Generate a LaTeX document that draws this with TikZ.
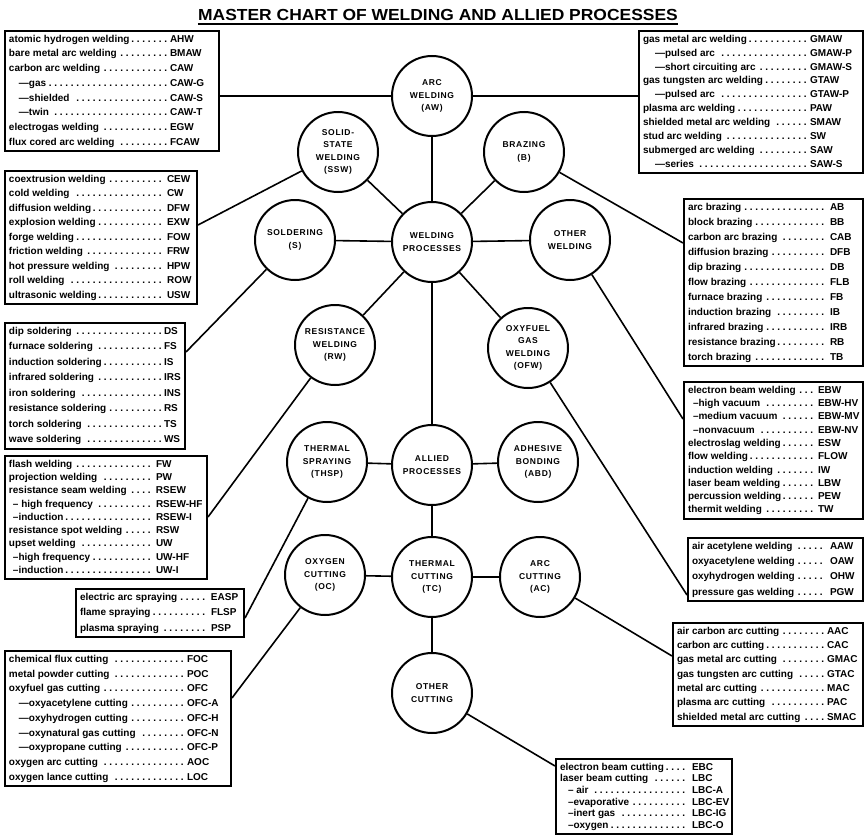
\documentclass[tikz,border=0pt]{standalone}
\usepackage{fontspec}
\usepackage{graphicx}
\setmainfont{Liberation Sans}
\newfontfamily\circfont{Liberation Sans}[LetterSpace=8]
\usetikzlibrary{calc}
\newlength\entw
\newlength\abw
\newcommand\ent[3][0pt]{\hbox to \entw{\vrule height 7pt depth 2pt width 0pt\hspace*{#1}#2\leaders\hbox to 5.5pt{\hss.\hss}\hfill\hbox to \abw{\kern1pt #3\hss}}}
\newcommand\rows[4]{\vbox{\setlength\entw{#1}\setlength\abw{#2}\baselineskip=#3\lineskiplimit=-50pt\lineskip=0pt #4}}
\tikzset{
  lbox/.style={draw, line width=2pt, inner xsep=4pt, inner ysep=4pt, anchor=north west, font=\fontsize{10}{12}\selectfont\bfseries},
  proc/.style={circle, draw, line width=2pt, minimum size=80pt, inner sep=0pt, align=center, font=\circfont\bfseries\fontsize{8.5}{12.5}\selectfont},
  conn/.style={line width=1.6pt},
}
\begin{document}
\begin{tikzpicture}[x=1pt,y=-1pt]
\useasboundingbox (0,0) rectangle (865,835);
% title
\node[font=\bfseries\fontsize{16}{19}\selectfont, inner sep=0pt, anchor=base] (title) at (438,20) {\scalebox{1.09}[1]{MASTER CHART OF WELDING AND ALLIED PROCESSES}};
\draw[line width=1.6pt] ([yshift=-4pt]title.base west) -- ([yshift=-4pt]title.base east);
% circles
\node[proc] (AW) at (432,96) {ARC\\WELDING\\(AW)};
\node[proc] (SSW) at (338,152) {SOLID-\\STATE\\WELDING\\(SSW)};
\node[proc] (B) at (524,152) {BRAZING\\(B)};
\node[proc] (S) at (295,240) {SOLDERING\\(S)};
\node[proc] (WP) at (432,242) {WELDING\\PROCESSES};
\node[proc] (OW) at (570,240) {OTHER\\WELDING};
\node[proc] (RW) at (335,345) {RESISTANCE\\WELDING\\(RW)};
\node[proc] (OFW) at (528,348) {OXYFUEL\\GAS\\WELDING\\(OFW)};
\node[proc] (THSP) at (327,462) {THERMAL\\SPRAYING\\(THSP)};
\node[proc] (AP) at (432,465) {ALLIED\\PROCESSES};
\node[proc] (ABD) at (538,462) {ADHESIVE\\BONDING\\(ABD)};
\node[proc] (OC) at (325,575) {OXYGEN\\CUTTING\\(OC)};
\node[proc] (TC) at (432,577) {THERMAL\\CUTTING\\(TC)};
\node[proc] (AC) at (540,577) {ARC\\CUTTING\\(AC)};
\node[proc] (OTC) at (432,693) {OTHER\\CUTTING};
% boxes left
\node[lbox] (AWL) at (4,30) {\rows{206pt}{46pt}{14.7pt}{%
\ent{atomic hydrogen welding}{AHW}
\ent{bare metal arc welding}{BMAW}
\ent{carbon arc welding}{CAW}
\ent[10pt]{\textemdash gas}{CAW-G}
\ent[10pt]{\textemdash shielded}{CAW-S}
\ent[10pt]{\textemdash twin}{CAW-T}
\ent{electrogas welding}{EGW}
\ent{flux cored arc welding}{FCAW}}};
\node[lbox] (CEW) at (4,170) {\rows{184pt}{27pt}{14.5pt}{%
\ent{coextrusion welding}{CEW}
\ent{cold welding}{CW}
\ent{diffusion welding}{DFW}
\ent{explosion welding}{EXW}
\ent{forge welding}{FOW}
\ent{friction welding}{FRW}
\ent{hot pressure welding}{HPW}
\ent{roll welding}{ROW}
\ent{ultrasonic welding}{USW}}};
\node[lbox] (DS) at (4,322) {\rows{172pt}{18pt}{15.5pt}{%
\ent{dip soldering}{DS}
\ent{furnace soldering}{FS}
\ent{induction soldering}{IS}
\ent{infrared soldering}{IRS}
\ent{iron soldering}{INS}
\ent{resistance soldering}{RS}
\ent{torch soldering}{TS}
\ent{wave soldering}{WS}}};
\node[lbox] (FW) at (4,455) {\rows{194pt}{48pt}{13.25pt}{%
\ent{flash welding}{FW}
\ent{projection welding}{PW}
\ent{resistance seam welding}{RSEW}
\ent[4pt]{\textendash\ high frequency}{RSEW-HF}
\ent[4pt]{\textendash induction}{RSEW-I}
\ent{resistance spot welding}{RSW}
\ent{upset welding}{UW}
\ent[4pt]{\textendash high frequency}{UW-HF}
\ent[4pt]{\textendash induction}{UW-I}}};
\node[lbox] (SP) at (75,588) {\rows{160pt}{30pt}{15.5pt}{%
\ent{electric arc spraying}{EASP}
\ent{flame spraying}{FLSP}
\ent{plasma spraying}{PSP}}};
\node[lbox] (FOC) at (4,650) {\rows{218pt}{41pt}{14.75pt}{%
\ent{chemical flux cutting}{FOC}
\ent{metal powder cutting}{POC}
\ent{oxyfuel gas cutting}{OFC}
\ent[10pt]{\textemdash oxyacetylene cutting}{OFC-A}
\ent[10pt]{\textemdash oxyhydrogen cutting}{OFC-H}
\ent[10pt]{\textemdash oxynatural gas cutting}{OFC-N}
\ent[10pt]{\textemdash oxypropane cutting}{OFC-P}
\ent{oxygen arc cutting}{AOC}
\ent{oxygen lance cutting}{LOC}}};
% boxes right
\node[lbox] (AWR) at (638,30) {\rows{216pt}{50pt}{13.9pt}{%
\ent{gas metal arc welding}{GMAW}
\ent[12pt]{\textemdash pulsed arc}{GMAW-P}
\ent[12pt]{\textemdash short circuiting arc}{GMAW-S}
\ent{gas tungsten arc welding}{GTAW}
\ent[12pt]{\textemdash pulsed arc}{GTAW-P}
\ent{plasma arc welding}{PAW}
\ent{shielded metal arc welding}{SMAW}
\ent{stud arc welding}{SW}
\ent{submerged arc welding}{SAW}
\ent[12pt]{\textemdash series}{SAW-S}}};
\node[lbox] (BR) at (683,198) {\rows{171pt}{30pt}{15pt}{%
\ent{arc brazing}{AB}
\ent{block brazing}{BB}
\ent{carbon arc brazing}{CAB}
\ent{diffusion brazing}{DFB}
\ent{dip brazing}{DB}
\ent{flow brazing}{FLB}
\ent{furnace brazing}{FB}
\ent{induction brazing}{IB}
\ent{infrared brazing}{IRB}
\ent{resistance brazing}{RB}
\ent{torch brazing}{TB}}};
\node[lbox] (EBW) at (683,381) {\rows{171pt}{42pt}{13.3pt}{%
\ent{electron beam welding}{EBW}
\ent[5pt]{\textendash high vacuum}{EBW-HV}
\ent[5pt]{\textendash medium vacuum}{EBW-MV}
\ent[5pt]{\textendash nonvacuum}{EBW-NV}
\ent{electroslag welding}{ESW}
\ent{flow welding}{FLOW}
\ent{induction welding}{IW}
\ent{laser beam welding}{LBW}
\ent{percussion welding}{PEW}
\ent{thermit welding}{TW}}};
\node[lbox] (AAW) at (687,537) {\rows{167pt}{30pt}{15.3pt}{%
\ent{air acetylene welding}{AAW}
\ent{oxyacetylene welding}{OAW}
\ent{oxyhydrogen welding}{OHW}
\ent{pressure gas welding}{PGW}}};
\node[lbox] (AAC) at (672,622) {\rows{182pt}{33pt}{14.3pt}{%
\ent{air carbon arc cutting}{AAC}
\ent{carbon arc cutting}{CAC}
\ent{gas metal arc cutting}{GMAC}
\ent{gas tungsten arc cutting}{GTAC}
\ent{metal arc cutting}{MAC}
\ent{plasma arc cutting}{PAC}
\ent{shielded metal arc cutting}{SMAC}}};
\node[lbox] (EBC) at (555,758) {\rows{168pt}{37pt}{11.6pt}{%
\ent{electron beam cutting}{EBC}
\ent{laser beam cutting}{LBC}
\ent[8pt]{\textendash\ air}{LBC-A}
\ent[8pt]{\textendash evaporative}{LBC-EV}
\ent[8pt]{\textendash inert gas}{LBC-IG}
\ent[8pt]{\textendash oxygen}{LBC-O}}};
% connectors between circles
\draw[conn] (AW) -- (WP);
\draw[conn] (SSW) -- (WP);
\draw[conn] (B) -- (WP);
\draw[conn] (S) -- (WP);
\draw[conn] (OW) -- (WP);
\draw[conn] (RW) -- (WP);
\draw[conn] (OFW) -- (WP);
\draw[conn] (WP) -- (AP);
\draw[conn] (THSP) -- (AP);
\draw[conn] (ABD) -- (AP);
\draw[conn] (AP) -- (TC);
\draw[conn] (OC) -- (TC);
\draw[conn] (AC) -- (TC);
\draw[conn] (TC) -- (OTC);
% connectors to boxes
\draw[conn] (AW.west) -- (AW.west -| AWL.east);
\draw[conn] (AW.east) -- (AW.east -| AWR.west);
\draw[conn] (SSW) -- ([yshift=-55pt]CEW.north east);
\draw[conn] (S) -- ([yshift=-30pt]DS.north east);
\draw[conn] (RW) -- ([yshift=-62pt]FW.north east);
\draw[conn] (THSP) -- ([yshift=-30pt]SP.north east);
\draw[conn] (OC) -- ([yshift=-48pt]FOC.north east);
\draw[conn] (B) -- ([yshift=-45pt]BR.north west);
\draw[conn] (OW) -- ([yshift=-38pt]EBW.north west);
\draw[conn] (OFW) -- ([yshift=-58pt]AAW.north west);
\draw[conn] (AC) -- ([yshift=-34pt]AAC.north west);
\draw[conn] (OTC) -- ([yshift=-8pt]EBC.north west);
\end{tikzpicture}
\end{document}
